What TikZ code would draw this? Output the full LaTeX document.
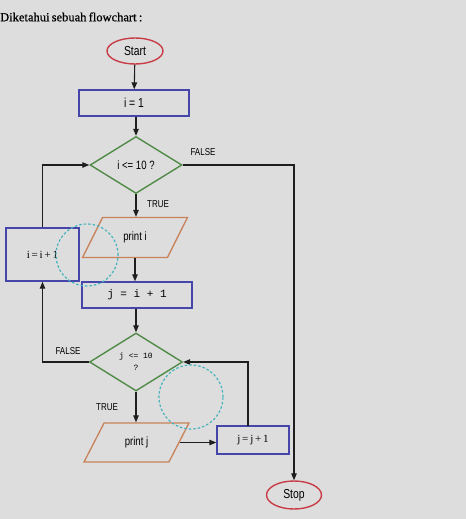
\documentclass[tikz,border=0pt]{standalone}
\usepackage{fontspec}
\setmainfont{Liberation Sans}[FakeStretch=0.8]
\newfontfamily\seriffont{Liberation Serif}
\newfontfamily\titlefont{Liberation Serif}[FakeBold=0.6]
\newfontfamily\monofont{Liberation Mono}
\usetikzlibrary{shapes.geometric,arrows.meta}
\definecolor{bg}{RGB}{221,221,221}
\definecolor{termred}{RGB}{200,60,70}
\definecolor{boxblue}{RGB}{70,70,170}
\definecolor{decgreen}{RGB}{80,140,70}
\definecolor{ioorange}{RGB}{200,130,90}
\definecolor{markcyan}{RGB}{70,180,190}
\definecolor{linegray}{RGB}{30,30,30}
\tikzset{
  terminal/.style={ellipse, draw=termred, line width=1.4pt, inner sep=0pt, font=\fontsize{13}{15}\selectfont},
  procbox/.style={rectangle, draw=boxblue, line width=1.4pt, inner sep=0pt},
  decision/.style={diamond, draw=decgreen, line width=1.4pt, inner sep=0pt, minimum width=92pt, minimum height=57pt},
  iobox/.style={trapezium, trapezium left angle=57, trapezium right angle=123, trapezium stretches=true, draw=ioorange, line width=1.3pt, inner sep=0pt, minimum width=105pt, minimum height=40pt, font=\fontsize{12}{14}\selectfont},
  flow/.style={draw=linegray, line width=1.1pt, -{Triangle[length=7pt,width=5.5pt]}},
  lbl/.style={font=\fontsize{10}{12}\selectfont, inner sep=0pt},
  dashmark/.style={draw=markcyan, line width=1.2pt, dash pattern=on 2.5pt off 2pt}
}
\begin{document}
\begin{tikzpicture}[x=1pt,y=-1pt]
\path[use as bounding box, fill=bg] (0,0) rectangle (466,519);

\node[anchor=west, inner sep=0pt, font=\titlefont\fontsize{12.5}{14}\selectfont] (title) at (0,17) {\spaceskip=0.18em Diketahui sebuah flowchart :};

\node[terminal, minimum width=56pt, minimum height=26pt] (start) at (135,51) {Start};
\node[procbox, minimum width=110pt, minimum height=26pt, font=\fontsize{13}{15}\selectfont] (i1) at (134,103) {i = 1};
\node[decision, font=\fontsize{12}{14}\selectfont] (d1) at (136,165) {i <= 10 ?};
\node[iobox] (pi) at (135,237.5) {print i};
\node[procbox, minimum width=110pt, minimum height=26pt, font=\monofont\fontsize{11}{13}\selectfont] (ji) at (137,295) {j = i + 1};
\node[decision, minimum width=93pt, minimum height=58pt, font=\monofont\fontsize{8}{12}\selectfont, align=center] (d2) at (136,362) {j <= 10\\?};
\node[procbox, minimum width=73pt, minimum height=53pt, font=\seriffont\fontsize{11}{13}\selectfont] (ii) at (42.5,254.5) {i\,=\,i\,+\,1};
\node[iobox, minimum height=39pt] (pj) at (136.5,442.5) {print j};
\node[procbox, minimum width=72pt, minimum height=28pt, font=\seriffont\fontsize{11}{13}\selectfont] (jj) at (253,440) {j\,=\,j\,+\,1};
\node[terminal, minimum width=55pt, minimum height=28pt] (stop) at (294,495) {Stop};

\coordinate (jjtop) at (248,426);

\draw[flow] (start) -- (i1);
\draw[flow] (i1.south -| d1.north) -- (d1.north);
\draw[flow] (d1.south) -- (d1.south |- pi.north);
\draw[flow] (d1.east) -| (stop.north);
\draw[flow] (pi.south) -- (pi.south |- ji.north);
\draw[flow] (ji.south -| d2.north) -- (d2.north);
\draw[flow] (d2.south) -- (d2.south |- pj.north);
\draw[flow] (d2.west) -| (ii.south);
\draw[flow] (ii.north) |- (d1.west);
\draw[flow] (pj.east) -- (pj.east -| jj.west);
\draw[flow] (jjtop) |- (d2.east);

\node[lbl] (f1) at (203,152) {FALSE};
\node[lbl] (t1) at (158,204) {TRUE};
\node[lbl] (f2) at (68,351) {FALSE};
\node[lbl] (t2) at (107,407) {TRUE};

\draw[dashmark] (87,255) circle (31pt);
\draw[dashmark] (191,397) circle (32pt);
\end{tikzpicture}
\end{document}
